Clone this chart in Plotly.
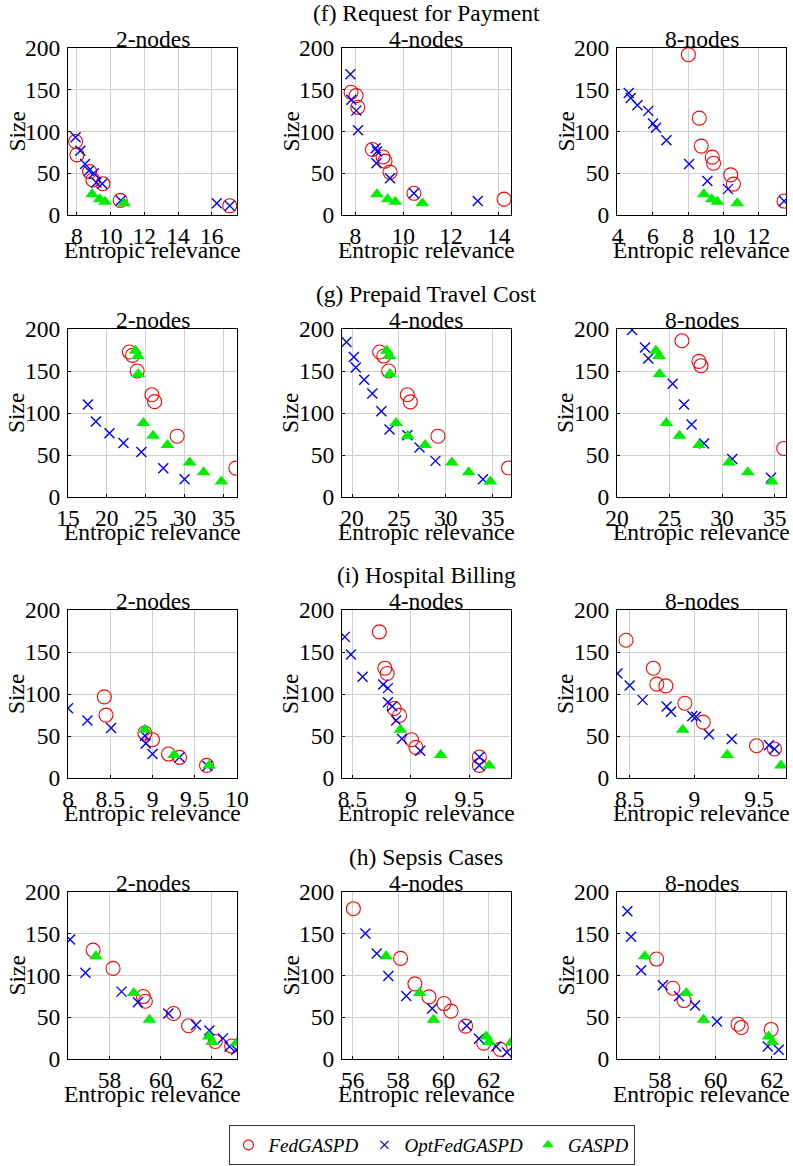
import plotly.graph_objects as go

# ---------------- data ----------------
# (f) Request for Payment
f_gaspd_x = [8.9, 9.35, 9.67, 10.8]
f_gaspd_y = [25, 19, 16, 14]
f2_fed_x = [7.92, 8.0, 8.75, 8.95, 9.54, 10.57, 17.07]
f2_fed_y = [88, 72, 52, 42, 37.5, 17.5, 11]
f2_opt_x = [7.92, 8.2, 8.48, 8.71, 9.0, 9.15, 9.5, 10.6, 16.3, 17.07]
f2_opt_y = [93, 77, 61, 53, 50, 39, 37.5, 17.5, 14, 11]
f4_fed_x = [7.82, 8.03, 8.1, 8.71, 9.16, 9.24, 9.45, 10.45, 14.22]
f4_fed_y = [147, 143, 129, 78.5, 69.5, 64.5, 51.4, 26, 19]
f4_opt_x = [7.79, 7.83, 8.04, 8.11, 8.85, 8.91, 8.88, 9.45, 10.45, 13.12]
f4_opt_y = [168.5, 138, 125, 101.6, 80, 76, 62, 44, 26, 16.7]
f8_fed_x = [8.02, 8.64, 8.75, 9.38, 9.45, 10.43, 10.58, 13.46]
f8_fed_y = [192, 116, 82.5, 69.3, 62, 48, 37, 16.7]
f8_opt_x = [4.63, 4.74, 5.12, 5.74, 6.01, 6.18, 6.77, 8.06, 9.1, 10.27, 13.46]
f8_opt_y = [146, 140, 131.5, 124.7, 109.6, 104.4, 89.6, 61, 40.6, 31, 16.7]

# (g) Prepaid Travel Cost
g_gaspd_x = [23.7, 24.0, 24.05, 24.7, 25.95, 27.8, 30.65, 32.45, 34.75]
g_gaspd_y = [174, 168, 146.5, 88, 73, 62, 41, 29.4, 18.5]
g2_fed_x = [22.9, 23.3, 23.9, 25.8, 26.15, 29.05, 36.6]
g2_fed_y = [172.6, 168.6, 150, 121.7, 113.5, 72.4, 34.4]
g2_opt_x = [17.56, 18.59, 20.34, 22.14, 24.44, 27.26, 30.0]
g2_opt_y = [110, 90, 76, 64.4, 53.7, 34.2, 21]
g4_fed_x = [22.95, 23.38, 23.91, 25.9, 26.22, 29.17, 36.7]
g4_fed_y = [172.6, 167.8, 150, 121.7, 113.3, 72.4, 34.6]
g4_opt_x = [19.4, 20.2, 20.4, 21.3, 22.17, 23.13, 24.0, 25.9, 27.2, 28.9, 33.97]
g4_opt_y = [184.5, 166.6, 154.3, 139.6, 123.3, 102.2, 80.3, 73.6, 58.8, 43, 21]
g8_fed_x = [26.18, 27.8, 27.99, 35.86]
g8_fed_y = [186, 161.4, 156.3, 57.7]
g8_opt_x = [21.43, 22.66, 22.98, 25.3, 26.38, 27.1, 28.28, 30.97, 34.65]
g8_opt_y = [198.8, 178, 165, 134.8, 110, 86.3, 63.6, 45.3, 23]

# (i) Hospital Billing
i_gaspd_x = [8.91, 9.255, 9.67]
i_gaspd_y = [57.5, 27.5, 15]
i2_fed_x = [8.43, 8.45, 8.91, 9.0, 9.19, 9.32, 9.64]
i2_fed_y = [96.6, 74.9, 53.5, 45.5, 28.5, 24.6, 15]
i2_opt_x = [8.0, 8.23, 8.51, 8.91, 8.92, 9.0, 9.32, 9.65]
i2_opt_y = [83, 68.5, 59.4, 50.3, 41, 28.5, 24.6, 14.3]
i4_fed_x = [8.73, 8.777, 8.797, 8.857, 8.903, 9.006, 9.043, 9.586, 9.586]
i4_fed_y = [174, 130.7, 124.4, 82.8, 74.5, 45.5, 36.4, 25, 15]
i4_opt_x = [8.434, 8.486, 8.586, 8.763, 8.803, 8.803, 8.84, 8.874, 8.923, 9.08, 9.586, 9.586]
i4_opt_y = [168, 147, 120.4, 111.3, 107, 90.3, 85.5, 68.5, 46.7, 32.5, 25, 15]
i8_fed_x = [8.472, 8.683, 8.71, 8.78, 8.927, 9.069, 9.481, 9.62]
i8_fed_y = [164, 130.7, 111.7, 109.7, 89, 66.5, 38.4, 34.5]
i8_opt_x = [8.405, 8.5, 8.6, 8.786, 8.82, 8.985, 9.013, 9.113, 9.29, 9.577, 9.62]
i8_opt_y = [124.4, 110, 93, 85, 79, 73.7, 73, 52, 46.3, 39, 34.5]

# (h) Sepsis Cases
h_gaspd_x = [57.47, 58.95, 59.56, 61.88, 62.01, 62.97]
h_gaspd_y = [123, 79, 47, 27, 20.5, 19.5]
h2_fed_x = [57.36, 58.14, 59.32, 59.4, 60.5, 61.09, 62.13, 62.77]
h2_fed_y = [130.4, 108.5, 74.8, 69.2, 54.5, 39.8, 21, 15.5]
h2_opt_x = [56.46, 57.06, 58.47, 59.11, 60.3, 61.38, 61.9, 62.43, 62.69, 62.95]
h2_opt_y = [143, 103.4, 80.7, 68, 54.5, 40.6, 34.2, 24.7, 15, 11]
h4_fed_x = [56.03, 58.11, 58.74, 59.36, 60.02, 60.33, 60.97, 61.77, 62.5]
h4_fed_y = [180, 120.5, 90, 74.4, 66.4, 57.3, 39.4, 19, 11.5]
h4_opt_x = [56.56, 57.06, 57.57, 58.36, 59.5, 61.02, 61.56, 62.32, 62.79]
h4_opt_y = [150.3, 126.4, 99.4, 75.5, 60.4, 39.8, 24.3, 15.1, 8]
h8_fed_x = [57.89, 58.47, 58.87, 60.79, 60.91, 61.97]
h8_fed_y = [119.7, 84.7, 70, 41.7, 37.8, 35.4]
h8_opt_x = [56.85, 56.98, 57.34, 58.11, 58.69, 59.26, 60.04, 61.85, 62.24]
h8_opt_y = [177, 146.3, 106.2, 88.3, 75.1, 64, 45, 15, 11]

group_titles = ["(f) Request for Payment", "(g) Prepaid Travel Cost",
                "(i) Hospital Billing", "(h) Sepsis Cases"]
node_titles = ["2-nodes", "4-nodes", "8-nodes"]
series_names = ["FedGASPD", "OptFedGASPD", "GASPD"]
y_ticks = [0, 50, 100, 150, 200]

panels = [
    # row 0
    dict(fed=(f2_fed_x, f2_fed_y), opt=(f2_opt_x, f2_opt_y), gas=(f_gaspd_x, f_gaspd_y),
         xr=[7.47, 17.5], xt=[8, 10, 12, 14, 16]),
    dict(fed=(f4_fed_x, f4_fed_y), opt=(f4_opt_x, f4_opt_y), gas=(f_gaspd_x, f_gaspd_y),
         xr=[7.44, 14.51], xt=[8, 10, 12, 14]),
    dict(fed=(f8_fed_x, f8_fed_y), opt=(f8_opt_x, f8_opt_y), gas=(f_gaspd_x, f_gaspd_y),
         xr=[3.96, 13.57], xt=[4, 6, 8, 10, 12]),
    # row 1
    dict(fed=(g2_fed_x, g2_fed_y), opt=(g2_opt_x, g2_opt_y), gas=(g_gaspd_x, g_gaspd_y),
         xr=[15.0, 36.75], xt=[15, 20, 25, 30, 35]),
    dict(fed=(g4_fed_x, g4_fed_y), opt=(g4_opt_x, g4_opt_y), gas=(g_gaspd_x, g_gaspd_y),
         xr=[18.93, 36.96], xt=[20, 25, 30, 35]),
    dict(fed=(g8_fed_x, g8_fed_y), opt=(g8_opt_x, g8_opt_y), gas=(g_gaspd_x, g_gaspd_y),
         xr=[20.0, 36.08], xt=[20, 25, 30, 35]),
    # row 2
    dict(fed=(i2_fed_x, i2_fed_y), opt=(i2_opt_x, i2_opt_y), gas=(i_gaspd_x, i_gaspd_y),
         xr=[8.0, 10.0], xt=[8, 8.5, 9, 9.5, 10]),
    dict(fed=(i4_fed_x, i4_fed_y), opt=(i4_opt_x, i4_opt_y), gas=(i_gaspd_x, i_gaspd_y),
         xr=[8.41, 9.857], xt=[8.5, 9, 9.5]),
    dict(fed=(i8_fed_x, i8_fed_y), opt=(i8_opt_x, i8_opt_y), gas=(i_gaspd_x, i_gaspd_y),
         xr=[8.402, 9.709], xt=[8.5, 9, 9.5]),
    # row 3
    dict(fed=(h2_fed_x, h2_fed_y), opt=(h2_opt_x, h2_opt_y), gas=(h_gaspd_x, h_gaspd_y),
         xr=[56.38, 62.98], xt=[58, 60, 62]),
    dict(fed=(h4_fed_x, h4_fed_y), opt=(h4_opt_x, h4_opt_y), gas=(h_gaspd_x, h_gaspd_y),
         xr=[55.53, 62.97], xt=[56, 58, 60, 62]),
    dict(fed=(h8_fed_x, h8_fed_y), opt=(h8_opt_x, h8_opt_y), gas=(h_gaspd_x, h_gaspd_y),
         xr=[56.48, 62.5], xt=[58, 60, 62]),
]

# ---------------- layout geometry (window pixels) ----------------
W, H = 793, 1166
col_px = [(68, 237), (342, 511), (617, 786)]
row_px = [(48, 215), (329, 497), (610, 778), (892, 1059)]
FONT = "Liberation Serif"
FS = 23.5

def fx(px):
    return min(1.0, max(0.0, px / W))

def fy(py):
    return min(1.0, max(0.0, 1 - py / H))

colors = ["red", "blue", "#00ee00"]
styles = [
    dict(symbol="circle-open", size=14, color=colors[0], line=dict(width=1.1, color=colors[0])),
    dict(symbol="x-thin-open", size=10, color=colors[1], line=dict(width=1.4, color=colors[1])),
    dict(symbol="triangle-up", size=12, color=colors[2], line=dict(width=0)),
]
legend_styles = [
    dict(symbol="circle-open", size=10, color=colors[0], line=dict(width=1.1, color=colors[0])),
    dict(symbol="x-thin-open", size=8, color=colors[1], line=dict(width=1.3, color=colors[1])),
    dict(symbol="triangle-up", size=10, color=colors[2], line=dict(width=0)),
]

fig = go.Figure()
layout = dict(
    template="none",
    width=W, height=H, autosize=False,
    margin=dict(l=0, r=0, t=0, b=0, pad=0, autoexpand=False),
    paper_bgcolor="white", plot_bgcolor="white",
    font=dict(family=FONT, size=FS, color="black"),
    showlegend=True,
)
annotations = []

for k, p in enumerate(panels):
    r, c = divmod(k, 3)
    idx = "" if k == 0 else str(k + 1)
    xa, ya = "x" + idx, "y" + idx
    for s, key in enumerate(["fed", "opt", "gas"]):
        xs, ys = p[key]
        fig.add_trace(go.Scatter(
            x=xs, y=ys, mode="markers", xaxis=xa, yaxis=ya,
            name="<i>" + series_names[s] + "</i>",
            legendgroup=series_names[s], showlegend=False,
            marker=styles[s], cliponaxis=True,
        ))
    x0, x1 = col_px[c]
    y0, y1 = row_px[r]
    common = dict(showgrid=True, gridcolor="#cfcfcf", gridwidth=1,
                  showline=True, linecolor="black", linewidth=1, mirror=True,
                  ticks="inside", ticklen=3, tickcolor="black", automargin=False,
                  zeroline=False, tickfont=dict(family=FONT, size=FS))
    layout["xaxis" + idx] = dict(common, domain=[fx(x0), fx(x1)], anchor=ya,
                                 range=p["xr"], tickvals=p["xt"],
                                 ticktext=[("%g" % v) for v in p["xt"]])
    layout["yaxis" + idx] = dict(common, domain=[fy(y1), fy(y0)], anchor=xa,
                                 range=[0, 200], tickvals=y_ticks,
                                 ticklabelstandoff=2)
    cx = (x0 + x1) / 2
    # node title
    annotations.append(dict(text=node_titles[c], x=fx(cx), y=fy(y0 - 9), xref="paper", yref="paper",
                            showarrow=False, xanchor="center", yanchor="middle",
                            font=dict(family=FONT, size=FS)))
    # x axis title
    annotations.append(dict(text="Entropic relevance", x=fx(cx), y=fy(y1 + 35), xref="paper", yref="paper",
                            showarrow=False, xanchor="center", yanchor="middle",
                            font=dict(family=FONT, size=FS)))
    # y axis title
    annotations.append(dict(text="Size", x=fx(x0 - 52), y=fy((y0 + y1) / 2), xref="paper", yref="paper",
                            showarrow=False, xanchor="center", yanchor="middle", textangle=-90,
                            font=dict(family=FONT, size=FS)))
    if c == 1:
        annotations.append(dict(text=group_titles[r], x=fx(cx), y=fy(y0 - 35), xref="paper", yref="paper",
                                showarrow=False, xanchor="center", yanchor="middle",
                                font=dict(family=FONT, size=FS)))

# legend-only entries (smaller symbols, like the reference legend)
for s in range(3):
    fig.add_trace(go.Scatter(
        x=[None], y=[None], mode="markers", xaxis="x", yaxis="y",
        name="<i>" + series_names[s] + "</i>", legendgroup=series_names[s],
        showlegend=True, marker=legend_styles[s],
    ))

layout["annotations"] = annotations
layout["legend"] = dict(orientation="h", x=fx(431.5), y=fy(1125), xanchor="center", yanchor="top",
                        bordercolor="#333333", borderwidth=1, bgcolor="white",
                        font=dict(family=FONT, size=19), itemwidth=30, tracegroupgap=0)
fig.update_layout(**layout)
fig.write_html(
    "out.html",
    config={"displayModeBar": False, "responsive": False},
    post_script="document.body.style.margin='0px';document.body.style.padding='0px';"
                "document.documentElement.style.overflow='hidden';",
)
